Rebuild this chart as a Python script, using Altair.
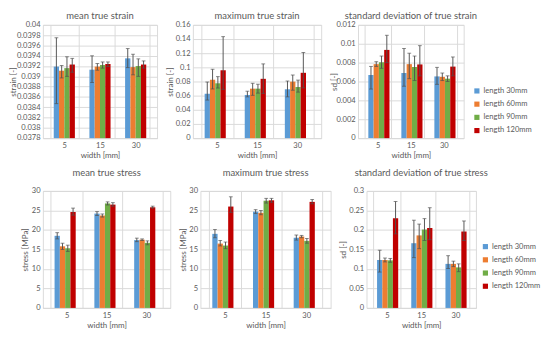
import altair as alt
import pandas as pd

widths = ["5", "15", "30"]
lengths = ["length 30mm", "length 60mm", "length 90mm", "length 120mm"]
colors = ["#5B9BD5", "#ED7D31", "#70AD47", "#C00000"]

mts_val = [[0.03919, 0.03913, 0.03935], [0.03911, 0.03919, 0.03918], [0.03916, 0.03922, 0.03920], [0.03923, 0.03924, 0.03923]]
mts_lo = [[0.03847, 0.03888, 0.03917], [0.03897, 0.03912, 0.03903], [0.03900, 0.03916, 0.03900], [0.03908, 0.03919, 0.03916]]
mts_hi = [[0.03975, 0.03940, 0.03954], [0.03921, 0.03925, 0.03943], [0.03938, 0.03928, 0.03934], [0.03935, 0.03928, 0.03930]]

xts_val = [[0.0627, 0.0610, 0.0690], [0.0825, 0.0699, 0.0798], [0.0775, 0.0699, 0.0722], [0.0959, 0.0838, 0.0923]]
xts_lo = [[0.0538, 0.0583, 0.0583], [0.0695, 0.0605, 0.0677], [0.0708, 0.0636, 0.0650], [0.0690, 0.0632, 0.0710]]
xts_hi = [[0.0793, 0.0663, 0.0807], [0.0973, 0.0775, 0.0892], [0.0869, 0.0762, 0.0820], [0.1434, 0.1049, 0.1210]]

sts_val = [[0.0067, 0.0069, 0.00654], [0.00784, 0.00784, 0.0065], [0.00804, 0.00754, 0.0063], [0.00935, 0.00781, 0.00758]]
sts_lo = [[0.0052, 0.0055, 0.0057], [0.0076, 0.0063, 0.0061], [0.0074, 0.0061, 0.0060], [0.0080, 0.0066, 0.0066]]
sts_hi = [[0.0076, 0.0095, 0.0075], [0.0081, 0.0090, 0.0069], [0.0087, 0.0087, 0.0066], [0.0109, 0.0098, 0.0086]]

mss_val = [[18.5, 24.2, 17.4], [15.8, 23.7, 17.5], [15.3, 26.8, 16.7], [24.6, 26.5, 25.8]]
mss_lo = [[17.7, 23.7, 17.0], [15.0, 23.3, 17.3], [14.5, 26.4, 16.2], [23.8, 26.1, 25.6]]
mss_hi = [[19.3, 24.7, 17.9], [16.6, 24.1, 17.7], [16.1, 27.2, 17.2], [25.6, 27.0, 26.1]]

xss_val = [[19.0, 24.7, 18.0], [16.5, 24.4, 18.3], [16.0, 27.5, 17.2], [26.0, 27.6, 27.2]]
xss_lo = [[18.0, 24.2, 17.4], [15.9, 23.9, 18.0], [15.2, 26.9, 16.6], [24.5, 27.1, 26.7]]
xss_hi = [[20.1, 25.2, 18.7], [17.3, 25.0, 18.6], [16.9, 28.1, 17.8], [28.5, 28.1, 27.8]]

sss_val = [[0.123, 0.166, 0.113], [0.123, 0.186, 0.113], [0.122, 0.201, 0.104], [0.230, 0.205, 0.196]]
sss_lo = [[0.092, 0.129, 0.101], [0.118, 0.152, 0.106], [0.117, 0.173, 0.093], [0.190, 0.175, 0.173]]
sss_hi = [[0.148, 0.225, 0.134], [0.128, 0.215, 0.120], [0.127, 0.229, 0.113], [0.273, 0.257, 0.223]]

TXT = "#595959"
GRID = "#D9D9D9"
ERR = "#505050"
FONT = "Lato"


def frame(val, lo, hi):
    rows = []
    for i, l in enumerate(lengths):
        for j, w in enumerate(widths):
            rows.append({"width": w, "length": l, "value": val[i][j], "lo": lo[i][j], "hi": hi[i][j]})
    return pd.DataFrame(rows)


def panel(val, lo, hi, title, ytitle, ymin, ymax, ticks, W, H, extent, tpad, toff, legend=None):
    df = frame(val, lo, hi)
    yscale = alt.Scale(domain=[ymin, ymax], nice=False, zero=False)
    yaxis = alt.Axis(values=ticks, format="~f", grid=True, gridColor=GRID, ticks=False, domain=False,
                     labelPadding=3, labelFontSize=8, titleFontSize=8.5, titleFontWeight="normal",
                     labelColor=TXT, titleColor=TXT, titlePadding=tpad, labelOverlap=False,
                     labelFlush=False, minExtent=extent, maxExtent=extent)
    base = alt.Chart(df).encode(
        x=alt.X("width:N", sort=widths, title="width [mm]",
                axis=alt.Axis(tickBand="extent", grid=True, gridColor=GRID, ticks=False, labelAngle=0,
                              domainColor=GRID, labelPadding=4, titlePadding=2, labelFontSize=8,
                              titleFontSize=8.5, titleFontWeight="normal", labelColor=TXT, titleColor=TXT)),
        xOffset=alt.XOffset("length:N", sort=lengths, scale=alt.Scale(paddingInner=0, paddingOuter=0.7)),
    )
    color_kwargs = {"scale": alt.Scale(domain=lengths, range=colors)}
    if legend is None:
        color_kwargs["legend"] = None
    else:
        color_kwargs["legend"] = legend
    bars = base.mark_bar().encode(
        y=alt.Y("value:Q", title=ytitle, scale=yscale, axis=yaxis),
        y2=alt.datum(ymin),
        color=alt.Color("length:N", sort=lengths, **color_kwargs),
    )
    rules = base.mark_rule(color=ERR, strokeWidth=1).encode(
        y=alt.Y("lo:Q", title=ytitle, scale=yscale, axis=yaxis), y2="hi:Q")
    cap_lo = base.mark_tick(color=ERR, thickness=1, size=4).encode(
        y=alt.Y("lo:Q", title=ytitle, scale=yscale, axis=yaxis))
    cap_hi = base.mark_tick(color=ERR, thickness=1, size=4).encode(
        y=alt.Y("hi:Q", title=ytitle, scale=yscale, axis=yaxis))
    return alt.layer(bars, rules, cap_lo, cap_hi).properties(
        width=W, height=H,
        title=alt.TitleParams(title, fontSize=10, fontWeight="normal", color=TXT, offset=toff, font=FONT),
    )


def leg(x, y):
    return alt.Legend(title=None, orient="none", legendX=x, legendY=y, symbolType="square", symbolSize=30,
                      symbolStrokeWidth=0, labelFontSize=8, labelColor=TXT, rowPadding=6, labelOffset=3)


t1 = [round(0.0378 + 0.0002 * k, 4) for k in range(12)]
t2 = [round(0.02 * k, 2) for k in range(9)]
t3 = [round(0.002 * k, 3) for k in range(7)]
t4 = [5 * k for k in range(7)]
t6 = [round(0.05 * k, 2) for k in range(7)]

p1 = panel(mts_val, mts_lo, mts_hi, "mean true strain", "strain [-]", 0.0378, 0.04, t1, 121, 120, 26, 1, 0)
p2 = panel(xts_val, xts_lo, xts_hi, "maximum true strain", "strain [-]", 0, 0.16, t2, 136, 120, 19, 1, 0)
p3 = panel(sts_val, sts_lo, sts_hi, "standard deviation of true strain", "sd [-]", 0, 0.012, t3, 112, 120, 21, 0, 0,
           legend=leg(122, 66))
p4 = panel(mss_val, mss_lo, mss_hi, "mean true stress", "stress [MPa]", 0, 30, t4, 135, 124, 13, 1, 10)
p5 = panel(xss_val, xss_lo, xss_hi, "maximum true stress", "stress [MPa]", 0, 30, t4, 138, 124, 13, 1, 10)
p6 = panel(sss_val, sss_lo, sss_hi, "standard deviation of true stress", "sd [-]", 0, 0.3, t6, 116, 124, 19, 1, 10,
           legend=leg(122, 55))

row1 = alt.hconcat(p1, p2, p3, spacing=7).resolve_scale(color="independent", y="independent", x="independent")
row2 = alt.hconcat(p4, p5, p6, spacing=7).resolve_scale(color="independent", y="independent", x="independent")

chart = (
    alt.vconcat(row1, row2, spacing=8)
    .resolve_scale(color="independent", y="independent", x="independent")
    .properties(padding={"top": -7, "left": 0, "right": 0, "bottom": 0})
    .configure(font=FONT)
    .configure_view(stroke=GRID)
)

chart.save("out.html", embed_options={"renderer": "svg", "actions": False})
